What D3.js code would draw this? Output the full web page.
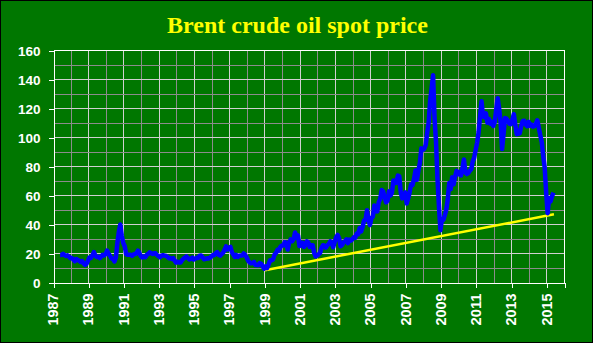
<!DOCTYPE html>
<html>
<head>
<meta charset="utf-8">
<script src="https://cdn.jsdelivr.net/npm/d3@7"></script>
<style>
  html, body { margin: 0; padding: 0; background: #007700; }
  svg { display: block; }
</style>
</head>
<body>
<svg id="chart" width="593" height="343"></svg>
<script>
// Brent crude, monthly prices (USD/bbl), May 1987 through May 2015
const firstYear = 1987;
const firstMonth = 5; // May
const monthlyPrices = [
  /* 1987 */ 19.0, 19.0, 19.8, 18.9, 18.3, 18.7, 17.8, 16.7,
  /* 1988 */ 16.9, 15.9, 14.7, 16.2, 15.6, 15.0, 14.2, 14.8, 13.1, 12.1, 12.9, 15.1,
  /* 1989 */ 17.2, 16.9, 18.7, 21.0, 18.5, 17.6, 17.8, 16.8, 17.9, 19.1, 18.7, 19.6,
  /* 1990 */ 22.0, 19.9, 18.4, 16.6, 16.4, 14.5, 17.2, 27.2, 34.9, 40.0, 32.3, 27.3,
  /* 1991 */ 25.0, 19.5, 19.1, 19.2, 19.2, 18.4, 19.4, 19.6, 20.2, 22.0, 20.2, 18.1,
  /* 1992 */ 17.3, 18.0, 17.5, 19.0, 19.7, 20.8, 20.1, 19.6, 20.2, 20.1, 18.9, 18.2,
  /* 1993 */ 17.4, 18.5, 18.8, 18.6, 18.5, 17.7, 16.8, 16.9, 16.2, 16.8, 15.1, 13.7,
  /* 1994 */ 14.3, 13.8, 13.8, 15.3, 16.4, 17.1, 18.0, 16.9, 15.9, 16.3, 17.1, 15.9,
  /* 1995 */ 16.5, 17.1, 16.9, 18.4, 18.6, 17.4, 16.0, 16.3, 16.7, 16.5, 17.0, 17.9,
  /* 1996 */ 18.9, 18.9, 20.2, 20.9, 19.1, 18.5, 19.6, 20.5, 22.5, 25.0, 22.8, 23.9,
  /* 1997 */ 24.5, 20.8, 19.2, 17.6, 19.0, 17.6, 18.5, 18.6, 18.6, 20.0, 19.1, 17.4,
  /* 1998 */ 15.1, 14.0, 13.2, 13.4, 14.2, 12.1, 12.0, 11.9, 13.4, 12.8, 11.0, 9.5,
  /* 1999 */ 11.1, 10.0, 12.5, 15.3, 15.3, 15.9, 19.1, 20.3, 22.5, 22.0, 24.6, 25.5,
  /* 2000 */ 25.5, 27.8, 27.5, 22.8, 27.6, 29.7, 28.5, 30.0, 34.5, 30.9, 32.5, 25.1,
  /* 2001 */ 25.6, 27.5, 24.5, 25.7, 28.4, 27.7, 24.5, 25.7, 25.7, 20.5, 18.0, 18.6,
  /* 2002 */ 19.4, 20.3, 23.7, 25.7, 25.4, 24.1, 25.7, 26.6, 28.4, 27.5, 24.3, 28.0,
  /* 2003 */ 31.2, 32.8, 30.4, 25.0, 25.8, 27.6, 28.4, 29.8, 27.1, 29.6, 28.8, 29.8,
  /* 2004 */ 31.2, 30.9, 33.8, 33.4, 37.6, 35.2, 38.2, 42.7, 43.2, 49.8, 43.1, 39.6,
  /* 2005 */ 44.5, 45.5, 53.1, 51.9, 49.0, 55.4, 57.6, 63.8, 62.8, 58.5, 55.2, 56.5,
  /* 2006 */ 62.9, 60.0, 62.1, 70.3, 69.8, 68.7, 73.7, 73.2, 62.0, 58.0, 58.9, 62.2,
  /* 2007 */ 54.5, 57.8, 62.1, 67.5, 67.2, 71.3, 77.2, 70.8, 77.2, 82.4, 92.5, 91.5,
  /* 2008 */ 92.2, 94.9, 103.3, 110.4, 125.4, 133.9, 143.0, 113.4, 97.0, 71.6, 52.5, 36.0,
  /* 2009 */ 43.4, 43.3, 46.5, 50.2, 57.3, 68.6, 64.4, 72.5, 67.7, 73.2, 77.0, 74.7,
  /* 2010 */ 76.2, 73.8, 78.8, 84.8, 75.9, 74.8, 75.6, 77.1, 78.2, 83.5, 86.1, 91.5,
  /* 2011 */ 96.5, 103.7, 114.6, 125.0, 114.5, 113.9, 116.7, 110.2, 112.8, 109.6, 110.8, 107.9,
  /* 2012 */ 110.7, 119.3, 127.0, 119.8, 110.3, 92.0, 102.6, 113.4, 113.0, 111.5, 109.5, 109.2,
  /* 2013 */ 112.3, 116.1, 108.5, 102.3, 102.6, 102.9, 107.9, 111.3, 111.6, 109.1, 107.8, 110.8,
  /* 2014 */ 108.1, 108.9, 107.5, 107.8, 109.5, 111.9, 106.8, 101.6, 97.1, 87.4, 79.4, 62.3,
  /* 2015 */ 47.8, 58.1, 55.9, 59.5, 62.0
];

// Support line drawn under the price series
const trendYears = [1999.0, 2015.4];
const trendValues = [8.5, 47.0];

// Axis tick labels
const yearTicks = d3.range(1987, 2016, 2);
const priceTicks = [0, 20, 40, 60, 80, 100, 120, 140, 160];
const titleText = "Brent crude oil spot price";

const svg = d3.select("#chart");
const W = 593, H = 343;

// Background and outer frame
svg.append("rect").attr("width", W).attr("height", H).attr("fill", "#007700");
svg.append("rect").attr("x", 0.5).attr("y", 0.5).attr("width", W - 1).attr("height", H - 1)
  .attr("fill", "none").attr("stroke", "#000").attr("stroke-width", 1);

const x = d3.scaleLinear().domain([1987, 2016]).range([53.5, 564.5]);
const y = d3.scaleLinear().domain([0, 160]).range([282.5, 50.5]);

// Title
svg.append("text")
  .attr("x", 297.5).attr("y", 33)
  .attr("text-anchor", "middle")
  .attr("font-family", "'Liberation Serif', 'Times New Roman', serif")
  .attr("font-weight", "bold")
  .attr("font-size", 24)
  .attr("fill", "#ffff00")
  .text(titleText);

// Grid: minor lines at even years / odd tens, major lines at labelled values
const grid = svg.append("g").attr("shape-rendering", "crispEdges");
d3.range(1988, 2017).forEach(yr => {
  grid.append("line")
    .attr("x1", x(yr)).attr("x2", x(yr)).attr("y1", y(0)).attr("y2", y(160))
    .attr("stroke", yr % 2 === 1 ? "#d0d0d0" : "#8c8c8c").attr("stroke-width", 1);
});
d3.range(10, 170, 10).forEach(v => {
  grid.append("line")
    .attr("x1", x(1987)).attr("x2", x(2016)).attr("y1", y(v)).attr("y2", y(v))
    .attr("stroke", v % 20 === 0 ? "#d0d0d0" : "#8c8c8c").attr("stroke-width", 1);
});
// Frame on the top and right of the plot
grid.append("line").attr("x1", x(1987)).attr("x2", x(2016)).attr("y1", y(160)).attr("y2", y(160))
  .attr("stroke", "#ffffff");
grid.append("line").attr("x1", x(2016)).attr("x2", x(2016)).attr("y1", y(0)).attr("y2", y(160))
  .attr("stroke", "#ffffff");

// Axes
const labelFont = "'Liberation Sans', Arial, sans-serif";
const yAxis = svg.append("g")
  .attr("transform", `translate(${x(1987)},0)`)
  .call(d3.axisLeft(y).tickValues(priceTicks).tickSize(5).tickPadding(8).tickFormat(d3.format("d")));
const xAxis = svg.append("g")
  .attr("transform", `translate(0,${y(0)})`)
  .call(d3.axisBottom(x).tickValues(yearTicks).tickSize(5).tickPadding(6).tickFormat(d3.format("d")));

[yAxis, xAxis].forEach(g => {
  g.attr("shape-rendering", "crispEdges");
  g.select(".domain").attr("stroke", "#ffffff");
  g.selectAll(".tick line").attr("stroke", "#ffffff");
  g.selectAll(".tick text")
    .attr("fill", "#ffffff")
    .attr("font-family", labelFont)
    .attr("font-weight", "bold");
});
yAxis.selectAll(".tick text")
  .attr("font-size", 13.5)
  .attr("dy", "0.36em");
xAxis.selectAll(".tick text")
  .attr("font-size", 15.5)
  .attr("textLength", 32)
  .attr("lengthAdjust", "spacingAndGlyphs")
  .attr("transform", "rotate(-90)")
  .attr("text-anchor", "end")
  .attr("x", -11)
  .attr("y", 0)
  .attr("dy", "0.27em");

// Yellow support line
const trendLine = d3.line().x(d => x(d[0])).y(d => y(d[1]));
svg.append("path")
  .datum(trendYears.map((t, i) => [t, trendValues[i]]))
  .attr("d", trendLine)
  .attr("fill", "none")
  .attr("stroke", "#ffff00")
  .attr("stroke-width", 2.5);

// Price series
const series = monthlyPrices.map((v, i) => {
  const m = firstMonth - 1 + i;
  return [firstYear + (m + 0.5) / 12, v];
});
const priceLine = d3.line().x(d => x(d[0])).y(d => y(d[1]));
svg.append("path")
  .datum(series)
  .attr("d", priceLine)
  .attr("fill", "none")
  .attr("stroke", "#0000ff")
  .attr("stroke-width", 4.5)
  .attr("stroke-linejoin", "round");
</script>
</body>
</html>
